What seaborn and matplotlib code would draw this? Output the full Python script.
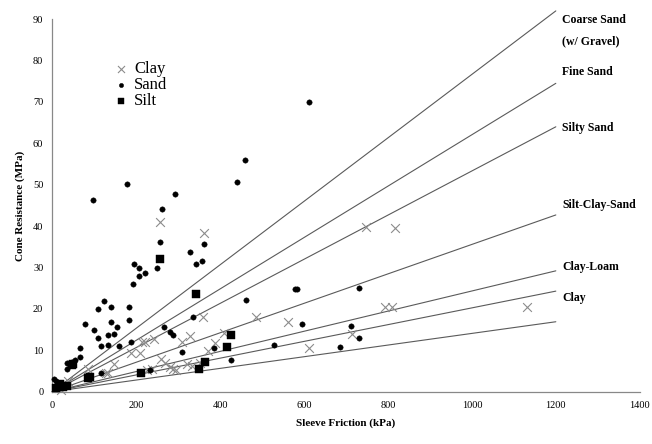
import numpy as np
import pandas as pd
import matplotlib
matplotlib.use("Agg")
import matplotlib.pyplot as plt
import seaborn as sns

# Sleeve friction (kPa) / cone resistance (MPa)
clay_fs = [747, 817, 794, 810, 1132, 714, 612, 561, 486, 358, 362, 257, 327, 310,
           409, 388, 372, 220, 242, 209, 258, 268, 280, 288, 294, 320, 332, 352,
           225, 237, 84, 148, 128, 133, 213, 187, 37, 15, 20]
clay_qc = [39.7, 39.5, 20.5, 20.5, 20.5, 13.9, 10.5, 16.8, 18.1, 18.1, 38.4, 41.1, 13.5, 12.1,
           14.1, 11.7, 9.9, 11.9, 12.7, 9.3, 7.8, 7.0, 6.0, 5.6, 5.2, 6.7, 6.2, 6.9,
           5.2, 5.6, 5.5, 6.6, 4.6, 4.6, 12.1, 9.4, 2.6, 1.0, 0.5]

sand_fs = [5, 9, 12, 34, 42, 34, 46, 55, 66, 66, 78, 100, 109, 124, 141, 183, 193, 97, 177,
           109, 117, 133, 159, 187, 133, 147, 141, 155, 184, 116,
           195, 207, 207, 221, 249, 257, 261, 292, 328, 342, 357, 362, 441, 459, 612,
           462, 578, 584, 730, 335, 266, 281, 287, 308, 386, 426, 529, 596, 711, 730, 686, 233]
sand_qc = [3.0, 2.5, 1.5, 6.9, 6.9, 5.4, 7.2, 7.7, 8.3, 10.5, 16.3, 14.9, 20.0, 21.9, 20.4, 20.4, 26.0, 46.3, 50.3,
           12.9, 11.0, 11.4, 11.1, 12.1, 13.7, 13.9, 16.9, 15.6, 17.3, 4.6,
           30.8, 30.0, 28.0, 28.7, 30.0, 36.1, 44.1, 47.8, 33.8, 30.8, 31.6, 35.8, 50.7, 56.0, 70.0,
           22.2, 24.8, 24.8, 25.1, 18.1, 15.7, 14.5, 13.7, 9.5, 10.5, 7.7, 11.4, 16.4, 15.9, 13.0, 10.8, 5.2]

silt_fs = [10, 18, 34, 25, 46, 50, 86, 91, 211, 257, 342, 350, 365, 416, 425]
silt_qc = [0.8, 1.8, 1.4, 1.2, 6.4, 6.6, 3.2, 3.5, 4.6, 32.0, 23.6, 5.6, 7.1, 10.7, 13.7]

# soil-type boundary lines, cone resistance at 1200 kPa
zone_names = ["Coarse Sand\n(w/ Gravel)", "Fine Sand", "Silty Sand", "Silt-Clay-Sand", "Clay-Loam", "Clay", ""]
zone_end_qc = [92.0, 74.5, 64.0, 42.7, 29.2, 24.3, 16.9]
label_y = [87.3, 77.2, 63.7, 45.1, 30.1, 22.7]

sns.set_style("white")
plt.rcParams["font.family"] = ["Liberation Serif", "DejaVu Serif"]

fig = plt.figure(figsize=(6.52, 4.44), dpi=100)
ax = fig.add_axes([0.0802, 0.1178, 0.901, 0.839])

lines = pd.DataFrame({
    "fs": [0, 1200] * len(zone_end_qc),
    "qc": [v for q in zone_end_qc for v in (0, q)],
    "zone": [z for z in range(len(zone_end_qc)) for _ in (0, 1)],
})
sns.lineplot(data=lines, x="fs", y="qc", units="zone", estimator=None,
             color="#5a5a5a", lw=0.8, ax=ax, clip_on=False, legend=False)

sns.scatterplot(x=clay_fs, y=clay_qc, marker="x", color="#8c8c8c", s=40,
                linewidth=0.8, label="Clay", ax=ax, clip_on=False, zorder=3)
sns.scatterplot(x=sand_fs, y=sand_qc, marker="o", color="black", s=15,
                edgecolor="black", linewidth=0.3, label="Sand", ax=ax, clip_on=False, zorder=3)
sns.scatterplot(x=silt_fs, y=silt_qc, marker="s", color="black", s=30,
                edgecolor="black", linewidth=0.3, label="Silt", ax=ax, clip_on=False, zorder=3)

for name, yv in zip(zone_names, label_y):
    ax.text(1215, yv, name, fontsize=8.5, fontweight="bold", ha="left", va="center",
            linespacing=2.0, clip_on=False, color="black")

ax.set_xlim(0, 1400)
ax.set_ylim(0, 90)
ax.set_xticks(np.arange(0, 1401, 200))
ax.set_yticks(np.arange(0, 91, 10))
ax.tick_params(axis="both", labelsize=7.5, length=3, width=0.8, color="#888888",
               labelcolor="black", direction="out")
ax.set_xlabel("Sleeve Friction (kPa)", fontsize=8, fontweight="bold", labelpad=6, color="black")
ax.set_ylabel("Cone Resistance (MPa)", fontsize=8, fontweight="bold", labelpad=6, color="black")
sns.despine(ax=ax)
for sp in ("left", "bottom"):
    ax.spines[sp].set_color("#888888")
    ax.spines[sp].set_linewidth(0.9)

leg = ax.legend(loc="upper left", bbox_to_anchor=(0.085, 0.91), frameon=False,
                fontsize=12, labelspacing=0.0, handletextpad=0.2, handlelength=1.2,
                borderpad=0, markerscale=0.8)
for t in leg.get_texts():
    t.set_color("black")

fig.savefig("out.png", dpi=100)
